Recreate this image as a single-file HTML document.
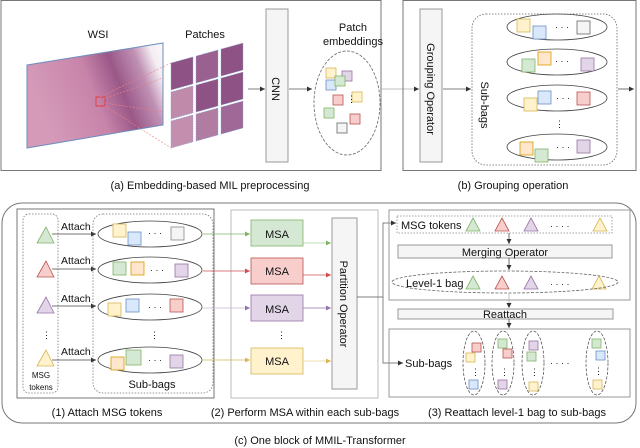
<!DOCTYPE html>
<html><head><meta charset="utf-8"><style>
body{margin:0;background:#fff}
svg{display:block;font-family:"Liberation Sans",sans-serif}
</style></head><body>
<svg width="640" height="448" viewBox="0 0 640 448" xmlns="http://www.w3.org/2000/svg">
<defs>
<marker id="ah" markerWidth="6" markerHeight="6" refX="5" refY="3" orient="auto" markerUnits="userSpaceOnUse"><path d="M0,0.5 L5,3 L0,5.5z" fill="#333"/></marker>
<marker id="ag" markerWidth="6" markerHeight="6" refX="5" refY="3" orient="auto" markerUnits="userSpaceOnUse"><path d="M0,0.5 L5,3 L0,5.5z" fill="#82b366"/></marker>
<marker id="ar" markerWidth="6" markerHeight="6" refX="5" refY="3" orient="auto" markerUnits="userSpaceOnUse"><path d="M0,0.5 L5,3 L0,5.5z" fill="#d05050"/></marker>
<marker id="ap" markerWidth="6" markerHeight="6" refX="5" refY="3" orient="auto" markerUnits="userSpaceOnUse"><path d="M0,0.5 L5,3 L0,5.5z" fill="#9673a6"/></marker>
<marker id="ay" markerWidth="6" markerHeight="6" refX="5" refY="3" orient="auto" markerUnits="userSpaceOnUse"><path d="M0,0.5 L5,3 L0,5.5z" fill="#d6b656"/></marker>
<linearGradient id="wsi" x1="0" y1="0.3" x2="1" y2="0">
<stop offset="0" stop-color="#d49ab8"/><stop offset="0.4" stop-color="#c884aa"/><stop offset="0.6" stop-color="#9a5888"/><stop offset="0.78" stop-color="#c090b4"/><stop offset="0.9" stop-color="#f4eef3"/><stop offset="1" stop-color="#fbf8fa"/></linearGradient>
</defs>
<g font-size="11" fill="#111">
<!-- panel a -->
<rect x="1" y="0.5" width="380" height="170" fill="none" stroke="#777"/>
<text x="98" y="38" text-anchor="middle">WSI</text>
<text x="205" y="38" text-anchor="middle">Patches</text>
<polygon points="27,65 163,43 163,125 27,148" fill="url(#wsi)" stroke="#6c8ebf"/>
<rect x="96" y="97" width="9" height="9" fill="none" stroke="#e03030" stroke-width="0.8"/>
<g stroke="#f08080" stroke-width="0.6" stroke-dasharray="2,1.5" fill="none">
<line x1="100" y1="97" x2="171" y2="63"/><line x1="105" y1="106" x2="171" y2="148"/>
<line x1="100" y1="100" x2="163" y2="78"/><line x1="105" y1="103" x2="163" y2="112"/></g>
<g transform="translate(171,63) skewY(-15.5)">
<g fill="#8e5285" stroke="#8aa8d8" stroke-width="0.6" stroke-dasharray="1.5,1">
<rect x="0" y="0" width="22" height="27"/><rect x="25" y="0" width="22" height="27" fill="#9a6090"/><rect x="50" y="0" width="22" height="27"/>
<rect x="0" y="29" width="22" height="27" fill="#c08aaa"/><rect x="25" y="29" width="22" height="27"/><rect x="50" y="29" width="22" height="27"/>
<rect x="0" y="58" width="22" height="27" fill="#c48eae"/><rect x="25" y="58" width="22" height="27" fill="#b07ca2"/><rect x="50" y="58" width="22" height="27" fill="#a06896"/>
</g></g>
<line x1="248" y1="89" x2="265" y2="89" stroke="#555" stroke-width="0.7" marker-end="url(#ah)"/>
<rect x="266" y="9" width="22" height="153" fill="#f5f5f5" stroke="#999"/>
<text transform="translate(272,89) rotate(90)" text-anchor="middle">CNN</text>
<line x1="289" y1="89" x2="312" y2="89" stroke="#555" stroke-width="0.7" marker-end="url(#ah)"/>
<text x="353" y="31" text-anchor="middle">Patch</text>
<text x="353" y="45" text-anchor="middle">embeddings</text>
<ellipse cx="347" cy="103" rx="33" ry="52" fill="none" stroke="#666" stroke-dasharray="3,1.5" stroke-width="0.8"/>
<g stroke-width="0.8">
<rect x="326" y="68" width="10" height="10" fill="#fff2cc" stroke="#d6b656"/>
<rect x="342" y="71" width="10" height="10" fill="#e1d5e7" stroke="#9673a6"/>
<rect x="326" y="80" width="10" height="10" fill="#dae8fc" stroke="#6c8ebf"/>
<rect x="335" y="76" width="10" height="10" fill="#d5e8d4" stroke="#82b366"/>
<rect x="352" y="92" width="10" height="10" fill="#fff2cc" stroke="#d6b656"/>
<rect x="333" y="95" width="10" height="10" fill="#f8cecc" stroke="#b85450"/>
<rect x="324" y="108" width="10" height="10" fill="#d5e8d4" stroke="#82b366"/>
<rect x="350" y="114" width="10" height="10" fill="#f8cecc" stroke="#b85450"/>
<rect x="337" y="123" width="10" height="10" fill="#f5f5f5" stroke="#666"/>
</g>
<text x="347" y="102" font-size="9">⋮</text>
<line x1="381" y1="89" x2="419" y2="89" stroke="#aaa" stroke-width="0.7" marker-end="url(#ah)"/>
<text x="210" y="189" text-anchor="middle">(a) Embedding-based MIL preprocessing</text>
<!-- panel b -->
<rect x="403" y="0.5" width="233" height="170" fill="none" stroke="#777"/>
<rect x="420" y="9" width="22" height="153" fill="#f5f5f5" stroke="#999"/>
<text transform="translate(427,89) rotate(90)" text-anchor="middle">Grouping Operator</text>
<line x1="443" y1="89" x2="471" y2="89" stroke="#555" stroke-width="0.7" marker-end="url(#ah)"/>
<rect x="472" y="14" width="145" height="151" rx="14" fill="none" stroke="#666" stroke-dasharray="1.5,1.5" stroke-width="0.8"/>
<text transform="translate(481,105) rotate(90)" text-anchor="middle">Sub-bags</text>
<g fill="none" stroke="#444" stroke-width="0.8">
<ellipse cx="557" cy="27" rx="50" ry="13"/><ellipse cx="557" cy="62" rx="50" ry="13"/>
<ellipse cx="557" cy="98" rx="50" ry="13"/><ellipse cx="557" cy="147" rx="50" ry="13"/></g>
<g stroke-width="0.8">
<rect x="517" y="19" width="13" height="13" fill="#fff2cc" stroke="#d6b656"/><rect x="533" y="26" width="13" height="13" fill="#dae8fc" stroke="#6c8ebf"/><rect x="577" y="21" width="13" height="13" fill="#f5f5f5" stroke="#666"/>
<rect x="522" y="59" width="13" height="13" fill="#d5e8d4" stroke="#82b366"/><rect x="538" y="52" width="13" height="13" fill="#ffe6cc" stroke="#d79b00"/><rect x="581" y="58" width="13" height="13" fill="#e1d5e7" stroke="#9673a6"/>
<rect x="524" y="98" width="13" height="13" fill="#fff2cc" stroke="#d6b656"/><rect x="538" y="91" width="13" height="13" fill="#dae8fc" stroke="#6c8ebf"/><rect x="577" y="92" width="13" height="13" fill="#f8cecc" stroke="#b85450"/>
<rect x="520" y="142" width="13" height="13" fill="#ffe6cc" stroke="#d79b00"/><rect x="535" y="149" width="13" height="13" fill="#d5e8d4" stroke="#82b366"/><rect x="577" y="140" width="13" height="13" fill="#e1d5e7" stroke="#9673a6"/>
</g>
<g font-size="9"><text x="555" y="30">· · ·</text><text x="555" y="64">· · ·</text><text x="556" y="101">· · ·</text><text x="556" y="150">· · ·</text><text x="555" y="127">⋮</text></g>
<line x1="618" y1="89" x2="634" y2="89" stroke="#333" stroke-width="0.7" marker-end="url(#ah)"/>
<text x="513" y="189" text-anchor="middle">(b) Grouping operation</text>

<!-- panel c -->
<rect x="2" y="203" width="634" height="220" rx="20" fill="none" stroke="#777"/>
<text x="320" y="444" text-anchor="middle">(c) One block of MMIL-Transformer</text>
<rect x="17" y="209" width="197" height="189" fill="none" stroke="#777"/>
<rect x="23" y="214" width="35" height="179" rx="6" fill="none" stroke="#777" stroke-dasharray="1.5,1.5" stroke-width="0.8"/>
<g stroke-width="0.8">
<polygon points="46,227 54,243 37,243" fill="#d5e8d4" stroke="#82b366"/>
<polygon points="46,261 54,277 37,277" fill="#f8cecc" stroke="#b85450"/>
<polygon points="46,297 54,313 37,313" fill="#e1d5e7" stroke="#9673a6"/>
<polygon points="46,350 54,366 37,366" fill="#fff2cc" stroke="#d6b656"/></g>
<text x="42" y="338" font-size="9">⋮</text>
<text x="41" y="378" text-anchor="middle" font-size="8">MSG</text>
<text x="41" y="390" text-anchor="middle" font-size="8">tokens</text>
<g font-size="10.5"><text x="61" y="230">Attach</text><text x="61" y="264">Attach</text><text x="61" y="302">Attach</text><text x="61" y="355">Attach</text></g>
<g stroke="#444" stroke-width="0.7" marker-end="url(#ah)">
<line x1="52" y1="234" x2="96" y2="234"/><line x1="52" y1="269" x2="96" y2="269"/><line x1="52" y1="306" x2="96" y2="306"/><line x1="52" y1="360" x2="96" y2="360"/></g>
<rect x="93" y="214" width="120" height="179" rx="10" fill="none" stroke="#777" stroke-dasharray="1.5,1.5" stroke-width="0.8"/>
<g fill="none" stroke="#444" stroke-width="0.8">
<ellipse cx="150" cy="234" rx="52" ry="13"/><ellipse cx="150" cy="270" rx="52" ry="13"/><ellipse cx="150" cy="307" rx="52" ry="13"/><ellipse cx="150" cy="360" rx="52" ry="13"/></g>
<g stroke-width="0.8">
<rect x="113" y="224" width="13" height="13" fill="#fff2cc" stroke="#d6b656"/><rect x="128" y="232" width="13" height="13" fill="#dae8fc" stroke="#6c8ebf"/><rect x="171" y="227" width="13" height="13" fill="#f5f5f5" stroke="#888"/>
<rect x="113" y="262" width="13" height="13" fill="#d5e8d4" stroke="#82b366"/><rect x="131" y="262" width="13" height="13" fill="#ffe6cc" stroke="#d79b00"/><rect x="175" y="264" width="13" height="13" fill="#e1d5e7" stroke="#9673a6"/>
<rect x="108" y="303" width="13" height="13" fill="#fff2cc" stroke="#d6b656"/><rect x="126" y="299" width="13" height="13" fill="#dae8fc" stroke="#6c8ebf"/><rect x="170" y="299" width="13" height="13" fill="#f8cecc" stroke="#b85450"/>
<rect x="111" y="357" width="13" height="13" fill="#ffe6cc" stroke="#d79b00"/><rect x="126" y="350" width="15" height="15" fill="#d5e8d4" stroke="#82b366"/><rect x="170" y="355" width="13" height="13" fill="#e1d5e7" stroke="#9673a6"/></g>
<g font-size="9"><text x="148" y="236">· · ·</text><text x="150" y="273">· · ·</text><text x="148" y="310">· · ·</text><text x="148" y="363">· · ·</text><text x="150" y="338">⋮</text></g>
<text x="152" y="388" text-anchor="middle">Sub-bags</text>
<text x="107" y="416" text-anchor="middle">(1) Attach MSG tokens</text>

<rect x="231" y="210" width="147" height="188" fill="none" stroke="#bbb"/>
<line x1="203" y1="234" x2="250" y2="234" stroke="#82b366" stroke-width="0.7" marker-end="url(#ag)"/>
<line x1="203" y1="271" x2="250" y2="271" stroke="#d05050" stroke-width="0.7" marker-end="url(#ar)"/>
<line x1="203" y1="308" x2="250" y2="308" stroke="#c8b8d0" stroke-width="0.7" marker-end="url(#ap)"/>
<line x1="203" y1="360" x2="250" y2="360" stroke="#d6b656" stroke-width="0.7" marker-end="url(#ay)"/>
<g stroke-width="0.8">
<rect x="251" y="220" width="52" height="26" fill="#d5e8d4" stroke="#82b366"/>
<rect x="251" y="258" width="52" height="26" fill="#f8cecc" stroke="#b85450"/>
<rect x="251" y="295" width="52" height="26" fill="#e1d5e7" stroke="#9673a6"/>
<rect x="251" y="348" width="52" height="26" fill="#fff2cc" stroke="#d6b656"/></g>
<g text-anchor="middle"><text x="277" y="238">MSA</text><text x="277" y="275">MSA</text><text x="277" y="313">MSA</text><text x="277" y="365">MSA</text></g>
<text x="277" y="338" font-size="9">⋮</text>
<line x1="303" y1="243" x2="331" y2="243" stroke="#a8d0a0" stroke-width="0.7" marker-end="url(#ag)"/>
<line x1="303" y1="275" x2="331" y2="275" stroke="#d05050" stroke-width="0.7" marker-end="url(#ar)"/>
<line x1="303" y1="308" x2="331" y2="308" stroke="#9673a6" stroke-width="0.7" marker-end="url(#ap)"/>
<line x1="303" y1="361" x2="331" y2="361" stroke="#e8d090" stroke-width="0.7" marker-end="url(#ay)"/>
<rect x="332" y="218" width="25" height="171" fill="#f5f5f5" stroke="#999"/>
<text transform="translate(340,304) rotate(90)" text-anchor="middle">Partition Operator</text>
<text x="305" y="416" text-anchor="middle">(2) Perform MSA within each sub-bags</text>

<path d="M357,297 H383 V223 H396" fill="none" stroke="#555" stroke-width="0.7" marker-end="url(#ah)"/>
<path d="M383,297 V363 H403" fill="none" stroke="#555" stroke-width="0.7" marker-end="url(#ah)"/>
<rect x="389" y="210" width="241" height="90" fill="none" stroke="#999"/>
<rect x="397" y="216" width="215" height="17" fill="none" stroke="#888" stroke-dasharray="1.5,1.5" stroke-width="0.8"/>
<text x="401" y="229">MSG tokens</text>
<g stroke-width="0.8">
<polygon points="473,218 480,231 466,231" fill="#d5e8d4" stroke="#82b366"/>
<polygon points="502,218 509,231 495,231" fill="#f8cecc" stroke="#b85450"/>
<polygon points="531,218 538,231 524,231" fill="#e1d5e7" stroke="#9673a6"/>
<polygon points="600,218 607,231 593,231" fill="#fff2cc" stroke="#d6b656"/>
<polygon points="473,276 480,289 466,289" fill="#d5e8d4" stroke="#82b366"/>
<polygon points="502,276 509,289 495,289" fill="#f8cecc" stroke="#b85450"/>
<polygon points="531,276 538,289 524,289" fill="#e1d5e7" stroke="#9673a6"/>
<polygon points="599,276 606,289 592,289" fill="#fff2cc" stroke="#d6b656"/></g>
<g font-size="9"><text x="550" y="229">·  ·  ·  ·</text><text x="550" y="287">·  ·  ·  ·</text></g>
<line x1="509" y1="233" x2="509" y2="244" stroke="#333" stroke-width="0.7" marker-end="url(#ah)"/>
<rect x="398" y="245" width="214" height="13" fill="#f5f5f5" stroke="#999"/>
<text x="505" y="256" text-anchor="middle">Merging Operator</text>
<line x1="509" y1="258" x2="509" y2="270" stroke="#333" stroke-width="0.7" marker-end="url(#ah)"/>
<ellipse cx="505" cy="282" rx="113" ry="11" fill="none" stroke="#666" stroke-dasharray="3,1.5" stroke-width="0.8"/>
<text x="406" y="287">Level-1 bag</text>
<line x1="509" y1="293" x2="509" y2="308" stroke="#aaa" stroke-width="0.7" marker-end="url(#ah)"/>
<rect x="398" y="309" width="215" height="10" fill="#f5f5f5" stroke="#999"/>
<text x="505" y="318" text-anchor="middle">Reattach</text>
<line x1="509" y1="319" x2="509" y2="328" stroke="#333" stroke-width="0.7" marker-end="url(#ah)"/>
<rect x="389" y="329" width="241" height="68" fill="none" stroke="#999"/>
<text x="405" y="367">Sub-bags</text>
<g fill="none" stroke="#444" stroke-width="0.7" stroke-dasharray="3,1.5">
<ellipse cx="474" cy="363" rx="11" ry="32"/><ellipse cx="503" cy="363" rx="11" ry="32"/><ellipse cx="533" cy="363" rx="11" ry="32"/><ellipse cx="597" cy="363" rx="11" ry="32"/></g>
<g stroke-width="0.8">
<rect x="472" y="343" width="9" height="9" fill="#f8cecc" stroke="#b85450"/><rect x="466" y="353" width="9" height="9" fill="#fff2cc" stroke="#d6b656"/><rect x="469" y="380" width="9" height="9" fill="#dae8fc" stroke="#6c8ebf"/>
<rect x="498" y="339" width="9" height="9" fill="#d5e8d4" stroke="#82b366"/><rect x="503" y="349" width="9" height="9" fill="#f8cecc" stroke="#b85450"/><rect x="498" y="380" width="9" height="9" fill="#e1d5e7" stroke="#9673a6"/>
<rect x="529" y="341" width="9" height="9" fill="#e1d5e7" stroke="#9673a6"/><rect x="527" y="352" width="9" height="9" fill="#d5e8d4" stroke="#82b366"/><rect x="529" y="382" width="9" height="9" fill="#fff2cc" stroke="#d6b656"/>
<rect x="592" y="339" width="9" height="9" fill="#d5e8d4" stroke="#82b366"/><rect x="596" y="351" width="9" height="9" fill="#dae8fc" stroke="#6c8ebf"/><rect x="593" y="380" width="9" height="9" fill="#fff2cc" stroke="#d6b656"/></g>
<g font-size="9"><text x="471" y="375">⋮</text><text x="500" y="375">⋮</text><text x="530" y="375">⋮</text><text x="594" y="374">⋮</text><text x="550" y="366">·  ·  ·  ·</text></g>
<text x="517" y="416" text-anchor="middle">(3) Reattach level-1 bag to sub-bags</text>
</g>
</svg>
</body></html>
